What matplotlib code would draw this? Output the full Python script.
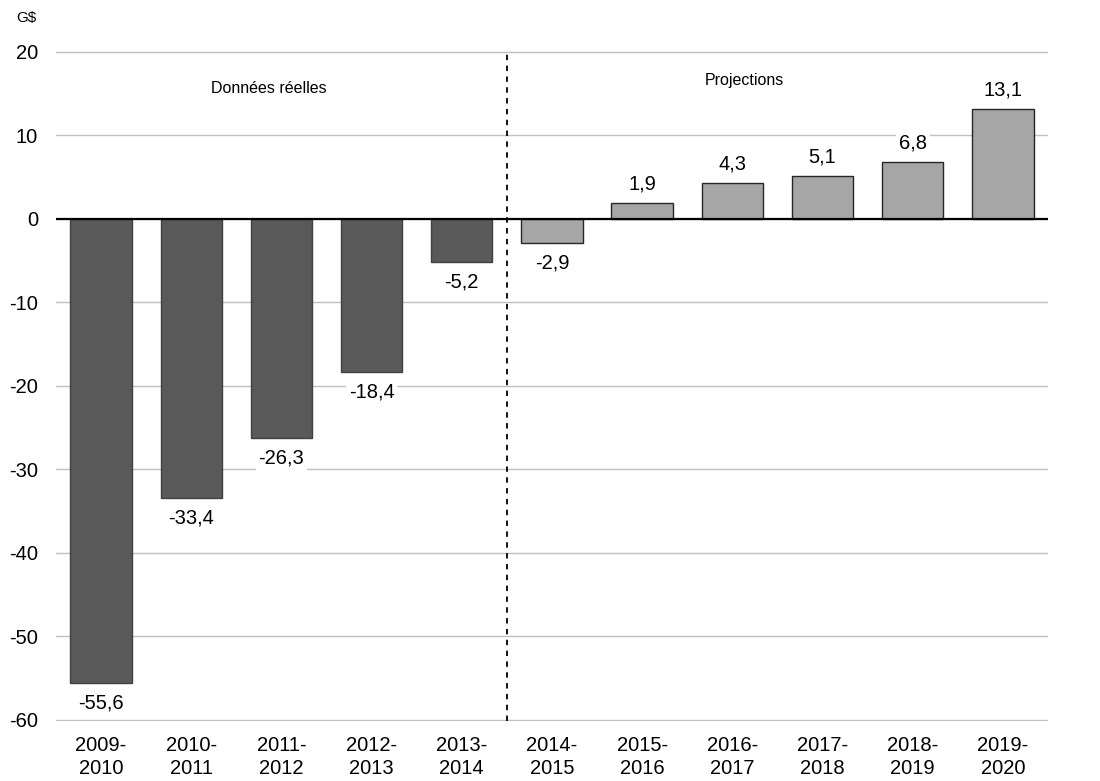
import matplotlib
matplotlib.use("Agg")
import matplotlib.pyplot as plt

plt.rcParams['font.family'] = ['Liberation Sans', 'DejaVu Sans']

categories = ["2009-\n2010", "2010-\n2011", "2011-\n2012", "2012-\n2013", "2013-\n2014",
              "2014-\n2015", "2015-\n2016", "2016-\n2017", "2017-\n2018", "2018-\n2019", "2019-\n2020"]
values = [-55.6, -33.4, -26.3, -18.4, -5.2, -2.9, 1.9, 4.3, 5.1, 6.8, 13.1]
labels = ["-55,6", "-33,4", "-26,3", "-18,4", "-5,2", "-2,9", "1,9", "4,3", "5,1", "6,8", "13,1"]
n_actual = 5
yticks = [-60, -50, -40, -30, -20, -10, 0, 10, 20]

fig = plt.figure(figsize=(11, 7.81), dpi=100)
ax = fig.add_axes([0.0509, 0.0768, 0.9018, 0.8579])

x = list(range(len(values)))
colors = ["#595959"] * n_actual + ["#a6a6a6"] * (len(values) - n_actual)
edges = ["#404040"] * n_actual + ["#262626"] * (len(values) - n_actual)
ax.bar(x, values, width=0.68, color=colors, edgecolor=edges, linewidth=1, zorder=3)

fs = 14.5
for xi, v, lab in zip(x, values, labels):
    if v < 0:
        ax.text(xi, v - 2.4, lab, ha='center', va='center', fontsize=fs, zorder=4,
                bbox=dict(facecolor='white', edgecolor='none', pad=2))
    else:
        ax.text(xi, v + 2.3, lab, ha='center', va='center', fontsize=fs, zorder=4,
                bbox=dict(facecolor='white', edgecolor='none', pad=2))

ax.set_xlim(-0.5, len(values) - 0.5)
ax.set_ylim(-60.15, 20.1)
ax.set_yticks(yticks)
ax.set_yticklabels([str(t) for t in yticks], fontsize=fs)
ax.set_xticks(x)
ax.set_xticklabels(categories, fontsize=fs, linespacing=1.25)
ax.tick_params(axis='both', length=0)
ax.tick_params(axis='y', pad=13)
ax.tick_params(axis='x', pad=11)

ax.yaxis.grid(True, color="#bfbfbf", linewidth=1, zorder=0)
ax.set_axisbelow(True)
for s in ax.spines.values():
    s.set_visible(False)
ax.axhline(0, color='black', linewidth=1.6, zorder=5)
ax.axvline(n_actual - 0.5, color='black', linestyle=(0, (3, 3)), linewidth=1.3, zorder=2)

ax.text(1.86, 15.6, "Données réelles", ha='center', va='center', fontsize=11.5)
ax.text(7.13, 16.6, "Projections", ha='center', va='center', fontsize=11.5)
fig.text(0.0145, 1 - 18 / 781, "G$", ha='left', va='center', fontsize=11)

fig.savefig("out.png", dpi=100)
